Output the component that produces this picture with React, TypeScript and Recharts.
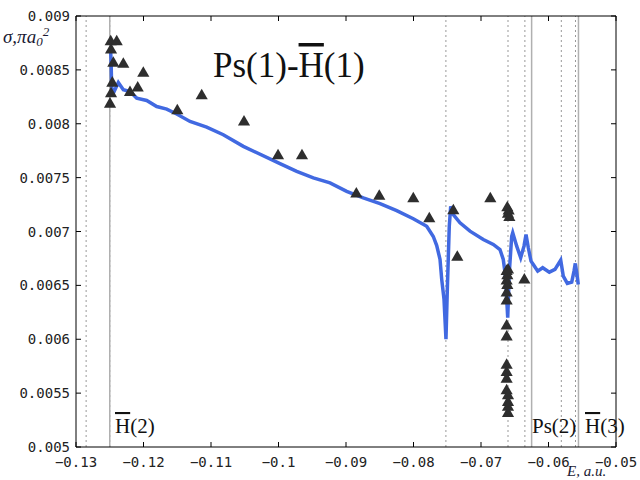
import {
  ComposedChart,
  Line,
  Scatter,
  XAxis,
  YAxis,
  ReferenceLine,
} from "recharts";

// theory curve, E (a.u.) vs cross section
const curveE = [
  -0.12489, -0.12481, -0.12474, -0.12467, -0.12437, -0.12373, -0.12299, -0.122,
  -0.12101, -0.11953, -0.11804, -0.11656, -0.11508, -0.11311, -0.11064, -0.10818,
  -0.10521, -0.09978, -0.0973, -0.09484, -0.09237, -0.0899, -0.08744, -0.08496,
  -0.08249, -0.08003, -0.07804, -0.07707, -0.07656, -0.07607, -0.07582, -0.07548,
  -0.07519, -0.07499, -0.0747, -0.07449, -0.0741, -0.07311, -0.07163, -0.06966,
  -0.06818, -0.06719, -0.0667, -0.06644, -0.06619, -0.06604, -0.06581, -0.06545,
  -0.0653, -0.06471, -0.06412, -0.06363, -0.06333, -0.06299, -0.06259, -0.06225,
  -0.0616, -0.06086, -0.05988, -0.05904, -0.05819, -0.05781, -0.05721, -0.05656,
  -0.05622, -0.05603, -0.05582, -0.05559,
];
const curveSigma = [
  0.008704, 0.008593, 0.008407, 0.008315, 0.008296, 0.008382, 0.008315, 0.008299,
  0.008238, 0.008216, 0.00816, 0.008136, 0.00809, 0.008021, 0.007969, 0.007898,
  0.00779, 0.00763, 0.007558, 0.007497, 0.007451, 0.007373, 0.007312, 0.007259,
  0.007194, 0.007118, 0.007049, 0.006954, 0.00687, 0.006741, 0.006556, 0.00637,
  0.006, 0.006463, 0.007049, 0.007234, 0.007157, 0.007081, 0.007003, 0.006926,
  0.00688, 0.006833, 0.006741, 0.006618, 0.00637, 0.006201, 0.006618, 0.006956,
  0.006988, 0.006864, 0.006757, 0.006864, 0.006972, 0.006849, 0.006725, 0.006694,
  0.006632, 0.006664, 0.006623, 0.006648, 0.006734, 0.006586, 0.006519, 0.006531,
  0.006632, 0.006704, 0.006618, 0.006509,
];

// other calculation, triangles
const triE = [
  -0.12486, -0.12397, -0.12481, -0.12447, -0.12299, -0.12003, -0.12462, -0.12086,
  -0.122, -0.12481, -0.12496, -0.11499, -0.11138, -0.10511, -0.10007, -0.09652,
  -0.08847, -0.08507, -0.08003, -0.07766, -0.0741, -0.07351, -0.06862,
  -0.0661, -0.0659, -0.066, -0.0658,
  -0.0662, -0.0661, -0.0662, -0.0661, -0.0662, -0.0662, -0.0662, -0.0662, -0.0662,
  -0.0662, -0.0662, -0.0662, -0.066, -0.066, -0.066, -0.066, -0.066,
  -0.06358, -0.06358,
];
const triSigma = [
  0.008762, 0.008762, 0.008685, 0.008562, 0.008553, 0.008469, 0.008377, 0.008331,
  0.00829, 0.008278, 0.008182, 0.00812, 0.008259, 0.008016, 0.007704, 0.007704,
  0.007349, 0.007327, 0.007303, 0.007118, 0.007192, 0.006762, 0.007303,
  0.00722, 0.00719, 0.00716, 0.00713,
  0.00663, 0.00659, 0.00654, 0.0065, 0.00643, 0.006355, 0.006123, 0.006021, 0.005759,
  0.005692, 0.00563, 0.005521, 0.005475, 0.005414, 0.005368, 0.005312,
  0.006642, 0.006549,
];

const xTicks = [-0.13, -0.12, -0.11, -0.1, -0.09, -0.08, -0.07, -0.06, -0.05];
const xTickLabels = ["−0.13", "−0.12", "−0.11", "−0.1", "−0.09", "−0.08", "−0.07", "−0.06", "−0.05"];
const yTicks = [0.005, 0.0055, 0.006, 0.0065, 0.007, 0.0075, 0.008, 0.0085, 0.009];
const yTickLabels = ["0.005", "0.0055", "0.006", "0.0065", "0.007", "0.0075", "0.008", "0.0085", "0.009"];

// thresholds and resonance positions
const dottedE = [-0.1285, -0.125, -0.0752, -0.066, -0.0635, -0.0581, -0.056];
const solidE = [-0.125, -0.0625, -0.05556];

const curve = curveE.map((e, i) => ({ e, s: curveSigma[i] }));
const tri = triE.map((e, i) => ({ e, s: triSigma[i] }));

const W = 640;
const H = 480;
const MARGIN = { top: 16, right: 24, bottom: 8, left: 6 };
const PLOT_BOTTOM = H - MARGIN.bottom - 25;
const PLOT_RIGHT = W - MARGIN.right;
const TICK = 5;
const mono = "'DejaVu Sans Mono', monospace";
const serif = "'Liberation Serif', 'Times New Roman', serif";

function XTick({ x, y, index }: any) {
  return (
    <g>
      <line x1={x} x2={x} y1={PLOT_BOTTOM} y2={PLOT_BOTTOM - TICK} stroke="#000" />
      <line x1={x} x2={x} y1={MARGIN.top} y2={MARGIN.top + TICK} stroke="#000" />
      <text x={x} y={y + 20} textAnchor="middle" fontFamily={mono} fontSize={14} fill="#222">
        {xTickLabels[index]}
      </text>
    </g>
  );
}

function YTick({ x, y, index }: any) {
  return (
    <g>
      <line x1={x} x2={x + TICK} y1={y} y2={y} stroke="#000" />
      <line x1={PLOT_RIGHT} x2={PLOT_RIGHT - TICK} y1={y} y2={y} stroke="#000" />
      <text x={x - 6} y={y + 5} textAnchor="end" fontFamily={mono} fontSize={14} fill="#222">
        {yTickLabels[index]}
      </text>
    </g>
  );
}

export default function App() {
  return (
    <div style={{ position: "absolute", left: 0, top: 0, width: W, height: H, background: "#fff" }}>
      <ComposedChart width={W} height={H} margin={MARGIN}>
        <XAxis
          type="number"
          dataKey="e"
          domain={[-0.13, -0.05]}
          ticks={xTicks}
          interval={0}
          height={25}
          tickSize={0}
          tickMargin={0}
          tick={<XTick />}
          axisLine={{ stroke: "#000" }}
          allowDataOverflow
        />
        <YAxis
          type="number"
          dataKey="s"
          domain={[0.005, 0.009]}
          ticks={yTicks}
          interval={0}
          width={70}
          tickSize={0}
          tickMargin={0}
          tick={<YTick />}
          axisLine={{ stroke: "#000" }}
          allowDataOverflow
        />
        {dottedE.map((e) => (
          <ReferenceLine key={"d" + e} x={e} stroke="#999" strokeDasharray="2 3" />
        ))}
        {solidE.map((e) => (
          <ReferenceLine key={"s" + e} x={e} stroke="#b0b0b0" strokeWidth={1.5} />
        ))}
        <ReferenceLine y={0.009} stroke="#000" />
        <ReferenceLine x={-0.05} stroke="#000" />
        <Line
          data={curve}
          dataKey="s"
          type="linear"
          stroke="#4169e1"
          strokeWidth={3.5}
          dot={false}
          isAnimationActive={false}
        />
        <Scatter data={tri} dataKey="s" shape="triangle" fill="#2e2e2e" size={60} isAnimationActive={false} />
      </ComposedChart>
      <svg width={W} height={H} style={{ position: "absolute", left: 0, top: 0, pointerEvents: "none" }}>
        <text x={213} y={77} fontFamily={serif} fontSize={35} fill="#111">
          Ps(1)-<tspan style={{ textDecoration: "overline" }}>H</tspan>(1)
        </text>
        <text x={3} y={43} fontFamily={serif} fontStyle="italic" fontSize={19} fill="#1a1a33">
          σ,πa<tspan fontSize={13} dy={3}>0</tspan>
          <tspan fontSize={13} dy={-10}>2</tspan>
        </text>
        <text x={115} y={433} fontFamily={serif} fontSize={21} fill="#111">
          <tspan style={{ textDecoration: "overline" }}>H</tspan>(2)
        </text>
        <text x={532} y={433} fontFamily={serif} fontSize={21} fill="#111">
          Ps(2)
        </text>
        <text x={585} y={433} fontFamily={serif} fontSize={21} fill="#111">
          <tspan style={{ textDecoration: "overline" }}>H</tspan>(3)
        </text>
        <text x={567} y={476} fontFamily={serif} fontStyle="italic" fontSize={15} fill="#1a1a33">
          E, a.u.
        </text>
      </svg>
    </div>
  );
}
